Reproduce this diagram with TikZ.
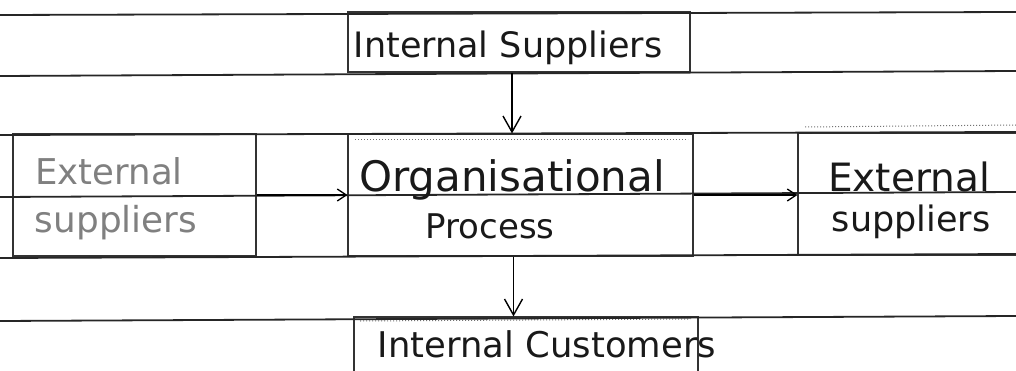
\documentclass[tikz,border=0pt]{standalone}
\usepackage{fontspec}
\setmainfont{DejaVu Sans}
\usetikzlibrary{arrows.meta}
\begin{document}
\begin{tikzpicture}[x=1pt,y=-1pt,
  rule/.style={line width=1.8pt, black!85},
  boxframe/.style={draw=black!80, line width=1.1pt, rectangle, inner sep=0pt},
  innerdots/.style={dotted, black!55, line width=1pt},
  hand/.style={anchor=base, inner sep=0pt, text=black!90},
  faint/.style={hand, text=black!50},
  arr/.style={line width=1.4pt, -{Straight Barb[length=16pt,width=18pt,line width=1.4pt]}},
  sidearr/.style={line width=1.3pt, -{Straight Barb[length=9pt,width=12pt,line width=1.3pt]}}]
\useasboundingbox (0,0) rectangle (1016,371);
\clip (0,0) rectangle (1016,371);
\fill[white] (0,0) rectangle (1016,371);

% boxes
\node[boxframe, minimum width=342pt, minimum height=60pt]  (is)  at (519,42)    {};
\node[boxframe, minimum width=243pt, minimum height=122pt] (esl) at (134.5,195) {};
\node[boxframe, minimum width=345pt, minimum height=122pt] (op)  at (520.5,195) {};
\node[boxframe, minimum width=240pt, minimum height=122pt] (esr) at (918,194)   {};
\node[boxframe, minimum width=344pt, minimum height=80pt]  (ic)  at (526,357)   {};

% faint inner top edges
\draw[innerdots] (355,140) -- (688,140);
\draw[innerdots] (805,127) -- (1016,125);
\draw[innerdots] (360,321) -- (690,319);

% ruled lines of the sheet
\draw[rule] (0,15)  -- (1016,12);
\draw[rule] (0,76)  -- (1016,71);
\draw[rule] (0,135) -- (1016,132);
\draw[rule] (0,197) -- (1016,192);
\draw[rule] (0,258) -- (1016,254);
\draw[rule] (0,321) -- (1016,316);

% labels
\node[hand, font=\fontsize{35}{40}\selectfont]   (ist)   at (508,58)  {Internal Suppliers};
\node[hand, font=\fontsize{42}{48}\selectfont]   (opt1)  at (512,192) {Organisational};
\node[hand, font=\fontsize{34}{40}\selectfont]   (opt2)  at (490,238) {Process};
\node[faint, font=\fontsize{35.5}{40}\selectfont] (eslt1) at (109,185) {External};
\node[faint, font=\fontsize{35.8}{40}\selectfont] (eslt2) at (116,233) {suppliers};
\node[hand, font=\fontsize{39}{44}\selectfont]   (esrt1) at (909,192) {External};
\node[hand, font=\fontsize{35}{40}\selectfont]   (esrt2) at (911,232) {suppliers};
\node[hand, font=\fontsize{35.4}{40}\selectfont] (ict)   at (547,357) {Internal Customers};

% flow arrows
\draw[arr] ([xshift=-7pt]is.south) -- ([xshift=-7pt]is.south |- op.north);
\draw[sidearr] (esl.east) -- (op.west);
\draw[sidearr] (op.east) -- (op.east -| esr.west);
\draw[arr] ([xshift=-7pt]op.south) -- ([xshift=-7pt]op.south |- ic.north);
\end{tikzpicture}
\end{document}
